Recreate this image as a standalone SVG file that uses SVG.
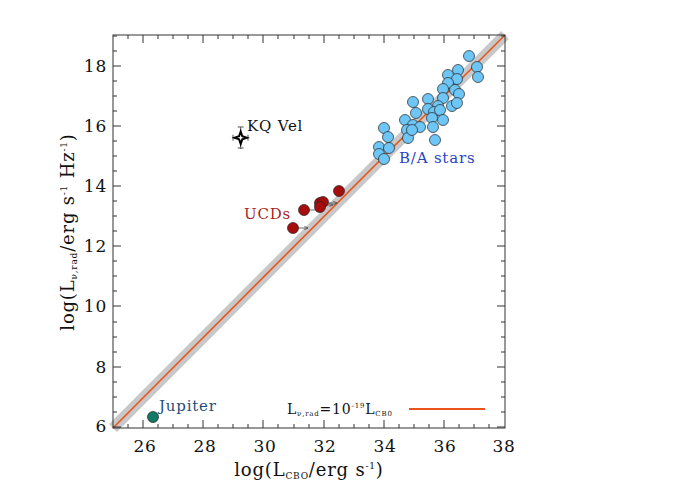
<svg xmlns="http://www.w3.org/2000/svg" width="700" height="500" viewBox="0 0 700 500">
<style>
text{font-family:"DejaVu Serif","Liberation Serif",serif;letter-spacing:0.8px}
.tl{font-size:17px;fill:#111}
.star{fill:#6ec6f7;stroke:#222;stroke-width:0.7}
.ucd{fill:#a80d0d;stroke:#222;stroke-width:0.7}
.ax{fill:none;stroke:#333;stroke-width:1}
.tk{stroke:#333;stroke-width:1}
.ar{stroke:#444;stroke-width:0.8;fill:none;marker-end:url(#ah)}
</style>
<defs>
<marker id="ah" markerWidth="6" markerHeight="6" refX="5" refY="3" orient="auto"><path d="M0,0.5 L5,3 L0,5.5" fill="none" stroke="#444" stroke-width="0.8"/></marker>
</defs>
<rect width="700" height="500" fill="#fff"/>
<g id="connectors">
<line x1="113" y1="428" x2="505" y2="35" stroke="#c8c8c8" stroke-width="11"/>
<line x1="113" y1="428" x2="505" y2="35" stroke="#e8541a" stroke-width="1.6"/>
<line x1="293" y1="228" x2="308" y2="228" class="ar"/>
<line x1="304" y1="210" x2="320" y2="210" class="ar"/>
<line x1="323" y1="203" x2="337" y2="203" class="ar"/>
<line x1="323" y1="205" x2="333" y2="205" class="ar"/>
<line x1="448" y1="83" x2="456" y2="81" class="ar"/>
<line x1="412" y1="130" x2="422" y2="128" class="ar"/>
</g>
<g id="axes">
<rect x="113" y="35" width="392" height="393" class="ax"/>
<path class="tk" d="M143,428v-8M203,428v-8M263,428v-8M324,428v-8M384,428v-8M444,428v-8M143,35v8M203,35v8M263,35v8M324,35v8M384,35v8M444,35v8
M128,428v-4M158,428v-4M173,428v-4M188,428v-4M218,428v-4M233,428v-4M248,428v-4M278,428v-4M294,428v-4M309,428v-4M339,428v-4M354,428v-4M369,428v-4M399,428v-4M414,428v-4M429,428v-4M459,428v-4M474,428v-4M489,428v-4
M128,35v4M158,35v4M173,35v4M188,35v4M218,35v4M233,35v4M248,35v4M278,35v4M294,35v4M309,35v4M339,35v4M354,35v4M369,35v4M399,35v4M414,35v4M429,35v4M459,35v4M474,35v4M489,35v4
M113,427h8M113,367h8M113,306h8M113,246h8M113,186h8M113,126h8M113,66h8M505,427h-8M505,367h-8M505,306h-8M505,246h-8M505,186h-8M505,126h-8M505,66h-8
M113,412h4M113,397h4M113,382h4M113,352h4M113,337h4M113,322h4M113,291h4M113,276h4M113,261h4M113,231h4M113,216h4M113,201h4M113,171h4M113,156h4M113,141h4M113,111h4M113,96h4M113,81h4M113,51h4M113,36h4
M505,412h-4M505,397h-4M505,382h-4M505,352h-4M505,337h-4M505,322h-4M505,291h-4M505,276h-4M505,261h-4M505,231h-4M505,216h-4M505,201h-4M505,171h-4M505,156h-4M505,141h-4M505,111h-4M505,96h-4M505,81h-4M505,51h-4M505,36h-4"/>
<g class="tl" text-anchor="middle">
<text x="145" y="452">26</text><text x="205" y="452">28</text><text x="265" y="452">30</text><text x="325" y="452">32</text><text x="385" y="452">34</text><text x="445" y="452">36</text><text x="504" y="452">38</text>
</g>
<g class="tl" text-anchor="end">
<text x="107" y="432">6</text><text x="107" y="373">8</text><text x="107" y="312">10</text><text x="107" y="252">12</text><text x="107" y="192">14</text><text x="107" y="132">16</text><text x="107" y="72">18</text>
</g>
<text x="309" y="476" text-anchor="middle" font-size="18" fill="#111">log(L<tspan font-size="9" dy="3">CBO</tspan><tspan dy="-3">/erg s</tspan><tspan font-size="9" dy="-7">-1</tspan><tspan dy="7">)</tspan></text>
<text transform="translate(74,232) rotate(-90)" text-anchor="middle" font-size="18" fill="#111">log(L<tspan font-size="9" dy="3">ν,rad</tspan><tspan dy="-3">/erg s</tspan><tspan font-size="9" dy="-7">-1</tspan><tspan dy="7"> Hz</tspan><tspan font-size="9" dy="-7">-1</tspan><tspan dy="7">)</tspan></text>
</g>
<g id="ba-stars">
<circle class="star" cx="469" cy="56" r="5.5"/><circle class="star" cx="477" cy="67" r="5.5"/><circle class="star" cx="478" cy="77" r="5.5"/><circle class="star" cx="458" cy="70" r="5.5"/><circle class="star" cx="448" cy="75" r="5.5"/><circle class="star" cx="457" cy="79" r="5.5"/><circle class="star" cx="448" cy="83" r="5.5"/><circle class="star" cx="443" cy="89" r="5.5"/><circle class="star" cx="455" cy="90" r="5.5"/><circle class="star" cx="459" cy="94" r="5.5"/><circle class="star" cx="443" cy="98" r="5.5"/><circle class="star" cx="452" cy="106" r="5.5"/><circle class="star" cx="457" cy="103" r="5.5"/><circle class="star" cx="428" cy="99" r="5.5"/><circle class="star" cx="438" cy="106" r="5.5"/><circle class="star" cx="428" cy="109" r="5.5"/><circle class="star" cx="434" cy="112" r="5.5"/><circle class="star" cx="440" cy="110" r="5.5"/><circle class="star" cx="432" cy="118" r="5.5"/><circle class="star" cx="443" cy="120" r="5.5"/><circle class="star" cx="413" cy="102" r="5.5"/><circle class="star" cx="416" cy="113" r="5.5"/><circle class="star" cx="405" cy="120" r="5.5"/><circle class="star" cx="413" cy="125" r="5.5"/><circle class="star" cx="420" cy="127" r="5.5"/><circle class="star" cx="407" cy="130" r="5.5"/><circle class="star" cx="408" cy="138" r="5.5"/><circle class="star" cx="412" cy="130" r="5.5"/><circle class="star" cx="433" cy="127" r="5.5"/><circle class="star" cx="435" cy="140" r="5.5"/><circle class="star" cx="384" cy="128" r="5.5"/><circle class="star" cx="388" cy="137" r="5.5"/><circle class="star" cx="379" cy="147" r="5.5"/><circle class="star" cx="389" cy="148" r="5.5"/><circle class="star" cx="379" cy="154" r="5.5"/><circle class="star" cx="384" cy="159" r="5.5"/>
<text x="399" y="163" font-size="15" fill="#2a44c0">B/A stars</text>
</g>
<g id="ucds">
<circle class="ucd" cx="293" cy="228" r="5.5"/><circle class="ucd" cx="304" cy="210" r="5.5"/><circle class="ucd" cx="320" cy="203" r="5.5"/><circle class="ucd" cx="323" cy="202" r="5.5"/><circle class="ucd" cx="320" cy="207" r="5.5"/><circle class="ucd" cx="339" cy="191" r="5.5"/>
<text x="244" y="219" font-size="15" fill="#a81f1f">UCDs</text>
</g>
<g id="kq-vel">
<path d="M233,137.7h15M233,134.7v6M248,134.7v6M240.7,127v22M237.7,127h6M237.7,148h6" stroke="#555" stroke-width="1" fill="none"/>
<path d="M240.7,131.5 L242.3,136.1 L246.9,137.7 L242.3,139.3 L240.7,143.9 L239.1,139.3 L234.5,137.7 L239.1,136.1 Z" fill="#fff" stroke="#000" stroke-width="2"/>
<text x="247" y="131" font-size="15" fill="#111">KQ Vel</text>
</g>
<g id="jupiter">
<circle cx="153" cy="417" r="5.5" fill="#127a66" stroke="#222" stroke-width="0.7"/>
<text x="159" y="411" font-size="15" fill="#1f4e79">Jupiter</text>
</g>
<g id="legend">
<text x="287" y="414" font-size="14" fill="#111">L<tspan font-size="7" dy="2">ν,rad</tspan><tspan dy="-2">=10</tspan><tspan font-size="7" dy="-6">-19</tspan><tspan dy="6">L</tspan><tspan font-size="7" dy="2">CB0</tspan></text>
<line x1="409" y1="409" x2="485" y2="409" stroke="#e8541a" stroke-width="1.8"/>
</g>
</svg>
